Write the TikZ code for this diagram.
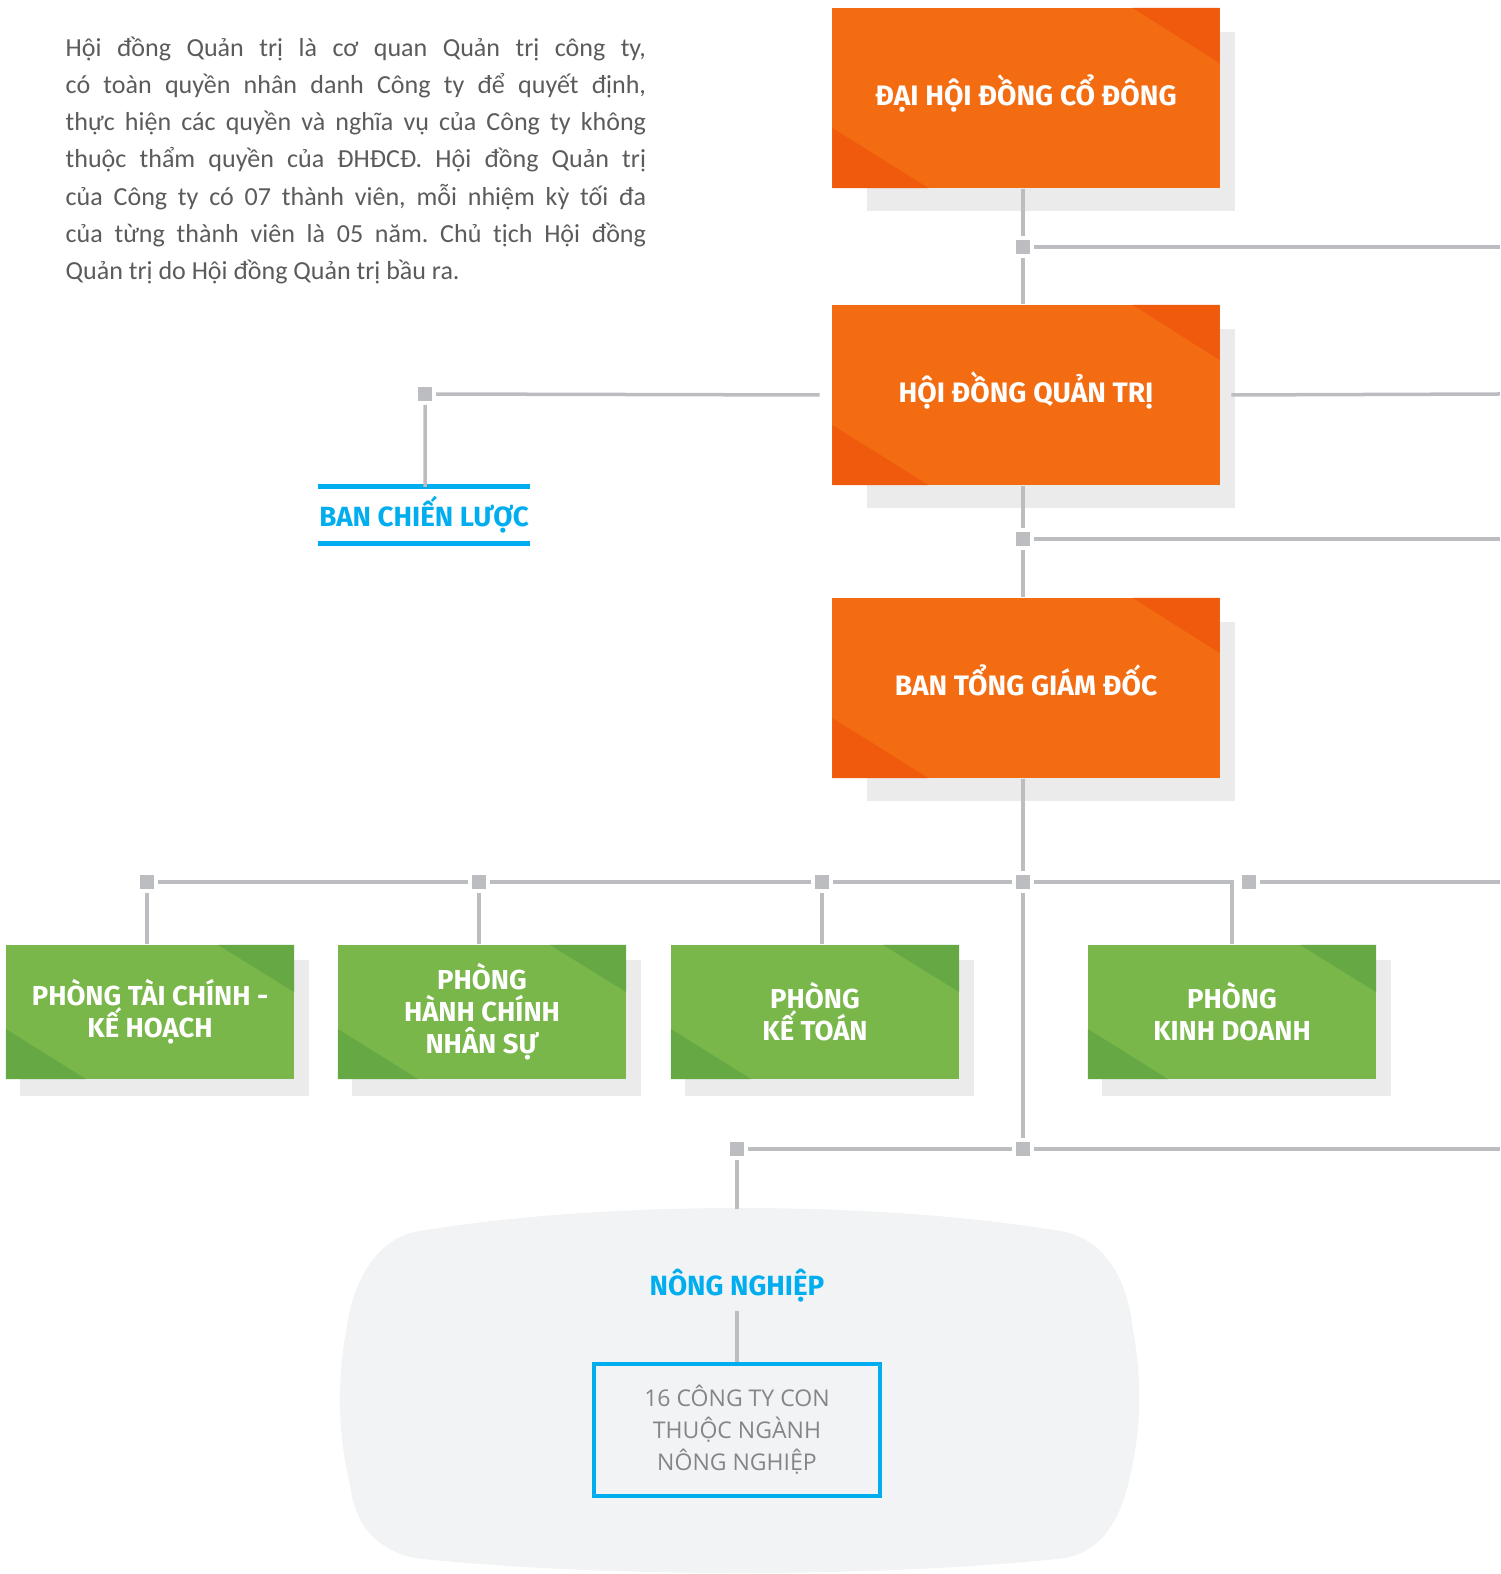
\documentclass[tikz,border=0pt]{standalone}
\usepackage{fontspec}
\setmainfont{Fira Sans}
\newfontfamily\parafont{Carlito}
\newfontfamily\subfont{Open Sans}
\usetikzlibrary{positioning,backgrounds}
\frenchspacing

\definecolor{orgmain}{HTML}{F36C12}
\definecolor{orgdark}{HTML}{EF5A0D}
\definecolor{grnmain}{HTML}{7AB74B}
\definecolor{grndark}{HTML}{66A843}
\definecolor{shadowgrey}{HTML}{EBEBEB}
\definecolor{linegrey}{HTML}{BCBDC0}
\definecolor{blobgrey}{HTML}{F2F3F5}
\definecolor{cyanblue}{HTML}{00AEEF}
\definecolor{paragrey}{HTML}{5B5B5E}
\definecolor{subgrey}{HTML}{858585}

\tikzset{
  line/.style={draw=linegrey, line width=0.035cm},
  sq/.style={fill=linegrey, minimum size=0.14cm, inner sep=0pt, outer sep=0.04cm},
  orgbox/.style={fill=orgmain, minimum width=3.87cm, minimum height=1.80cm, inner sep=0pt,
    text=white, text height=0.7em, text depth=0.25em, font=\bfseries\fontsize{8.0}{9.5}\selectfont,
    path picture={
      \fill[orgdark] ([xshift=-0.87cm]path picture bounding box.north east) -- (path picture bounding box.north east)
        -- ([yshift=-0.55cm]path picture bounding box.north east) -- cycle;
      \fill[orgdark] ([yshift=0.60cm]path picture bounding box.south west) -- (path picture bounding box.south west)
        -- ([xshift=0.96cm]path picture bounding box.south west) -- cycle;}},
  grnbox/.style={fill=grnmain, minimum width=2.88cm, minimum height=1.34cm, inner sep=0pt,
    text=white, align=center, font=\bfseries\fontsize{7.8}{9.1}\selectfont,
    path picture={
      \fill[grndark] ([xshift=-0.76cm]path picture bounding box.north east) -- (path picture bounding box.north east)
        -- ([yshift=-0.47cm]path picture bounding box.north east) -- cycle;
      \fill[grndark] ([yshift=0.50cm]path picture bounding box.south west) -- (path picture bounding box.south west)
        -- ([xshift=0.80cm]path picture bounding box.south west) -- cycle;}},
  bluelabel/.style={text=cyanblue, inner sep=0pt, font=\bfseries\fontsize{7.9}{9.5}\selectfont},
  bluebar/.style={draw=cyanblue, line width=0.05cm},
  subbox/.style={draw=cyanblue, line width=0.035cm, fill=blobgrey, minimum width=2.86cm, minimum height=1.32cm,
    align=center, text=subgrey, font=\subfont\fontsize{6.55}{9.1}\selectfont},
  para/.style={text=paragrey, text width=5.80cm, align=justify, inner sep=0pt,
    font=\parafont\fontsize{7.4}{10.58}\selectfont}
}

\begin{document}
\begin{tikzpicture}[x=0.01cm, y=-0.01cm]
  \useasboundingbox (0,0) rectangle (1500,1574);

  % nong nghiep area
  \fill[blobgrey] (414,1232) .. controls (600,1200) and (880,1200) .. (1066,1232)
    .. controls (1110,1244) and (1128,1285) .. (1133,1330)
    .. controls (1142,1380) and (1142,1430) .. (1128,1485)
    .. controls (1115,1535) and (1092,1552) .. (1066,1558)
    .. controls (880,1578) and (600,1578) .. (414,1558)
    .. controls (380,1550) and (356,1530) .. (350,1485)
    .. controls (337,1430) and (337,1380) .. (347,1325)
    .. controls (356,1270) and (382,1240) .. (414,1232) -- cycle;

  \node[para, anchor=north west] (intro) at (65,36) {%
    Hội đồng Quản trị là cơ quan Quản trị công ty,\linebreak
    có toàn quyền nhân danh Công ty để quyết định,\linebreak
    thực hiện các quyền và nghĩa vụ của Công ty không\linebreak
    thuộc thẩm quyền của ĐHĐCĐ. Hội đồng Quản trị\linebreak
    của Công ty có 07 thành viên, mỗi nhiệm kỳ tối đa\linebreak
    của từng thành viên là 05 năm. Chủ tịch Hội đồng\linebreak
    Quản trị do Hội đồng Quản trị bầu ra.};

  % main boxes
  \node[orgbox] (dhdcd) at (1026,98) {ĐẠI HỘI ĐỒNG CỔ ĐÔNG};
  \node[orgbox] (hdqt) at (1026,395) {HỘI ĐỒNG QUẢN TRỊ};
  \node[orgbox] (btgd) at (1026,688) {BAN TỔNG GIÁM ĐỐC};

  \node[grnbox] (ptc) at (150,1012) {PHÒNG TÀI CHÍNH -\\KẾ HOẠCH};
  \node[grnbox] (phc) at (482,1012) {PHÒNG\\HÀNH CHÍNH\\NHÂN SỰ};
  \node[grnbox] (pkt) at (815,1012) {PHÒNG\\KẾ TOÁN};
  \node[grnbox] (pkd) at (1232,1012) {PHÒNG\\KINH DOANH};

  \begin{scope}[on background layer]
    \foreach \n in {dhdcd,hdqt,btgd}
      \fill[shadowgrey] ([xshift=0.35cm,yshift=-0.25cm]\n.north west) rectangle ([xshift=0.15cm,yshift=-0.22cm]\n.south east);
    \foreach \n in {ptc,phc,pkt,pkd}
      \fill[shadowgrey] ([xshift=0.15cm,yshift=-0.16cm]\n.north west) rectangle ([xshift=0.14cm,yshift=-0.16cm]\n.south east);
  \end{scope}

  \node[bluelabel, minimum width=2.11cm, minimum height=0.55cm] (bcl) at (424,515) {BAN CHIẾN LƯỢC};
  \draw[bluebar] (bcl.north west) -- (bcl.north east) (bcl.south west) -- (bcl.south east);

  \node[bluelabel, inner sep=0.08cm] (nn) at (737,1286) {NÔNG NGHIỆP};
  \node[subbox] (con) at (737,1430) {16 CÔNG TY CON\\THUỘC NGÀNH\\NÔNG NGHIỆP};

  % junctions
  \node[sq] (sqdh) at (1023,247) {};
  \node[sq] (sqqt) at (1023,539) {};
  \node[sq] (sqcl) at (425,394) {};
  \node[sq] (sqtg) at (1023,882) {};
  \node[sq] (sqcon) at (1023,1149) {};
  \node[sq] (sqtc) at (147,882) {};
  \node[sq] (sqhc) at (479,882) {};
  \node[sq] (sqkt) at (822,882) {};
  \node[sq] (sqkd) at (1249,882) {};
  \node[sq] (sqnn) at (737,1149) {};

  \coordinate (r1) at (1500,247);
  \coordinate (r2) at (1500,394);
  \coordinate (r3) at (1500,539);
  \coordinate (r4) at (1500,882);
  \coordinate (r5) at (1500,1149);
  \coordinate (blobtop) at (737,1209);

  % connectors
  \draw[line] (dhdcd.south -| sqdh) -- (sqdh) -- (sqdh |- hdqt.north);
  \draw[line] (sqdh) -- (r1);
  \draw[line] (hdqt.south -| sqqt) -- (sqqt) -- (sqqt |- btgd.north);
  \draw[line] (sqqt) -- (r3);
  \draw[line] ([xshift=0.11cm]hdqt.east) -- (r2);
  \draw[line] ([xshift=-0.12cm]hdqt.west) -- (sqcl) -- (sqcl |- bcl.north);
  \draw[line] (btgd.south -| sqtg) -- (sqtg) -- (sqcon);
  \draw[line] (sqtg) -- (sqkt) -- (sqhc) -- (sqtc);
  \draw[line] (sqtg) -- (sqtg -| pkd) -- (pkd.north);
  \draw[line] (sqkd) -- (r4);
  \draw[line] (sqtc) -- (sqtc |- ptc.north);
  \draw[line] (sqhc) -- (sqhc |- phc.north);
  \draw[line] (sqkt) -- (sqkt |- pkt.north);
  \draw[line] (sqcon) -- (sqnn) -- (blobtop);
  \draw[line] (sqcon) -- (r5);
  \draw[line] (nn) -- (con);
\end{tikzpicture}
\end{document}
